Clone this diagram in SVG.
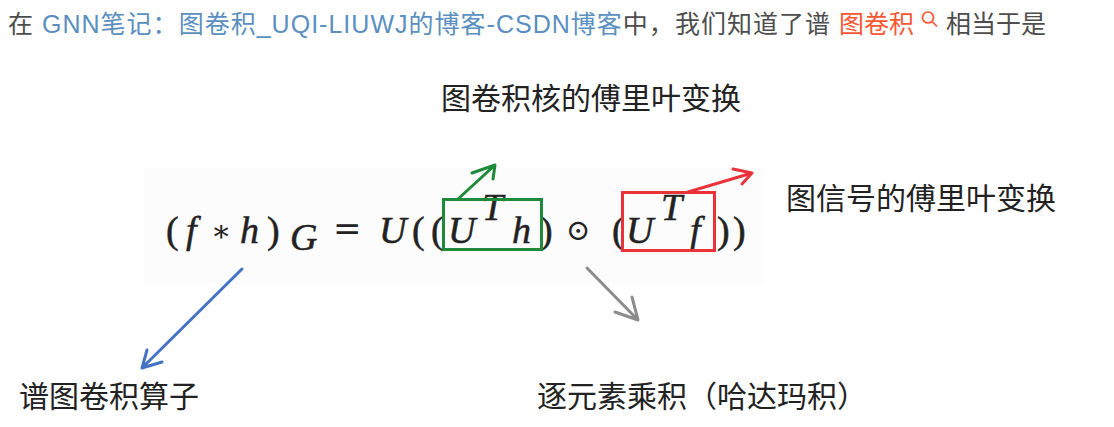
<svg xmlns="http://www.w3.org/2000/svg" width="1114" height="427" viewBox="0 0 1114 427">
<style>
.hd{font-family:"Liberation Sans","Noto Sans CJK SC",sans-serif;font-size:25px;fill:#4d4d4d}
.lk{fill:#5b8fbf}
.rd{fill:#fc5531}
.lb{font-family:"Noto Sans CJK SC",sans-serif;font-size:30px;fill:#222}
.m{font-family:"Liberation Serif","DejaVu Serif",serif;font-size:38px;fill:#222;stroke:#222;stroke-width:0.5}
.mi{font-style:italic}
.sym{font-family:"DejaVu Serif",serif;fill:#222}
.arr{fill:none;stroke-width:3;stroke-linecap:round;stroke-linejoin:round}
</style>
<rect width="1114" height="427" fill="#ffffff"/>
<g id="header">
<text class="hd" x="8" y="33" textLength="822" lengthAdjust="spacing">在 <tspan class="lk">GNN笔记：图卷积_UQI-LIUWJ的博客-CSDN博客</tspan>中，我们知道了谱</text>
<text class="hd rd" x="839" y="33">图卷积</text>
<g id="search-icon" fill="none" stroke="#fc5531" stroke-width="1.7">
<circle cx="928" cy="17.5" r="5.5"/>
<line x1="932" y1="21.5" x2="937" y2="26.5"/>
</g>
<text class="hd" x="946" y="33">相当于是</text>
</g>
<rect x="143" y="168" width="620" height="115" fill="#fcfcfc"/>
<g id="formula">
<text class="m" x="166" y="243">(</text>
<text class="m mi" x="186" y="243">f</text>
<text class="sym" x="211" y="241" font-size="30">∗</text>
<text class="m mi" x="240" y="243">h</text>
<text class="m" x="267" y="243">)</text>
<text class="m mi" x="290" y="250" font-size="23">G</text>
<text class="sym" x="333" y="240" font-size="34">=</text>
<text class="m mi" x="379" y="243">U</text>
<text class="m" x="412" y="243">(</text>
<text class="m" x="431" y="243">(</text>
<text class="m mi" x="448" y="243">U</text>
<text class="m mi" x="482" y="220" font-size="21">T</text>
<text class="m mi" x="512" y="243">h</text>
<text class="m" x="540" y="243">)</text>
<text class="sym" x="566" y="240" font-size="29">⊙</text>
<text class="m" x="612" y="243">(</text>
<text class="m mi" x="626" y="243">U</text>
<text class="m mi" x="661" y="220" font-size="21">T</text>
<text class="m mi" x="690" y="243">f</text>
<text class="m" x="717" y="243">)</text>
<text class="m" x="733" y="243">)</text>
</g>
<g id="box-kernel">
<rect x="443.5" y="199.5" width="98" height="50" fill="none" stroke="#1f8a3a" stroke-width="3"/>
</g>
<g id="box-signal">
<rect x="622.5" y="192.5" width="92" height="58" fill="none" stroke="#e8333b" stroke-width="3"/>
</g>
<g id="connectors">
<path class="arr" stroke="#1f8a3a" d="M458 199 L495 165 M472 173 L495 165 L493 179"/>
<path class="arr" stroke="#e8333b" d="M688 192 L752 173 M733 169 L752 173 L742 184"/>
<path class="arr" stroke="#4472c4" d="M242 269 L142 368 M147 350 L142 368 L162 362"/>
<path class="arr" stroke="#8c8c8c" d="M587 268 L638 320 M615 312 L638 320 L632 297"/>
</g>
<g id="label-kernel"><text class="lb" x="441" y="109">图卷积核的傅里叶变换</text></g>
<g id="label-signal"><text class="lb" x="786" y="209">图信号的傅里叶变换</text></g>
<g id="label-operator"><text class="lb" x="19" y="407">谱图卷积算子</text></g>
<g id="label-hadamard"><text class="lb" x="537" y="407" font-size="29">逐元素乘积（哈达玛积）</text></g>
</svg>
